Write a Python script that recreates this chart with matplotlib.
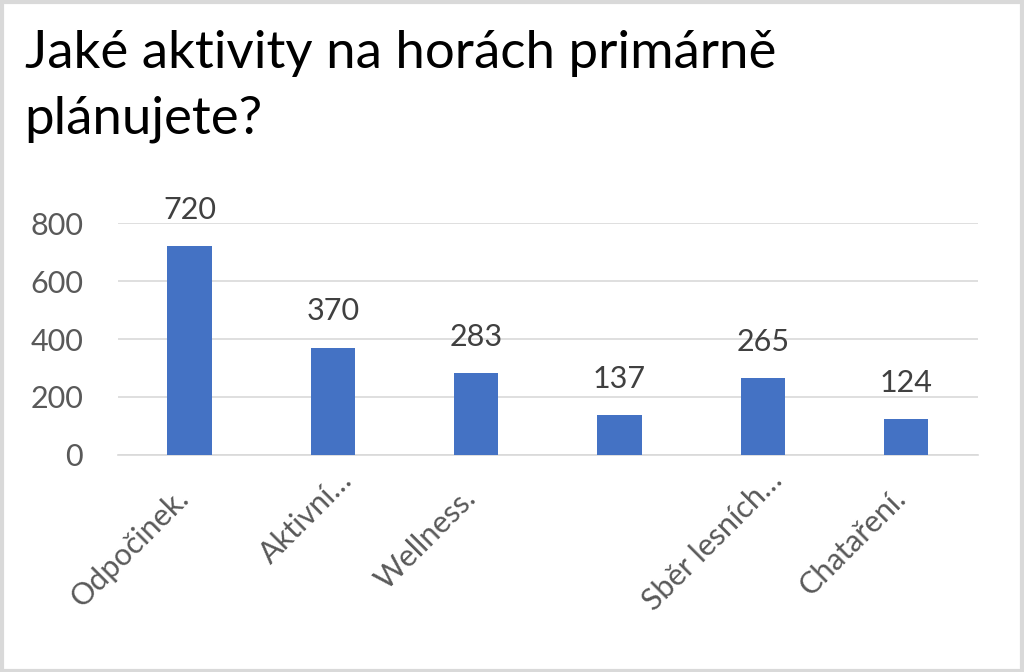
import matplotlib
matplotlib.use("Agg")
import matplotlib.pyplot as plt
import matplotlib.transforms as mtransforms
import numpy as np

plt.rcParams['font.family'] = ['Lato', 'DejaVu Sans']

categories = ["Odpočinek.", "Aktivní…", "Wellness.", "", "Sběr lesních…", "Chataření."]
values = [720, 370, 283, 137, 265, 124]

fig = plt.figure(figsize=(10.24, 6.72), dpi=100)
ax = fig.add_axes([0.115, 0.323, 0.84, 0.345])

x = np.arange(len(categories))
ax.bar(x, values, width=0.31, color='#4472C4', zorder=3)

for xi, v in zip(x, values):
    ax.annotate(str(v), (xi, v), xytext=(0, 16), textcoords='offset points',
                ha='center', va='bottom', fontsize=22, color='#404040')

ax.set_xlim(-0.5, len(categories) - 0.5)
ax.set_ylim(0, 800)
ax.set_yticks([0, 200, 400, 600, 800])
ax.yaxis.grid(True, color='#d9d9d9', linewidth=1.2, zorder=0)
ax.set_axisbelow(True)
for s in ['top', 'right', 'left']:
    ax.spines[s].set_visible(False)
ax.spines['bottom'].set_color('#d9d9d9')
ax.spines['bottom'].set_linewidth(1.2)
ax.tick_params(axis='both', length=0, labelsize=22, labelcolor='#595959')
ax.tick_params(axis='y', pad=25)

ax.set_xticks(x)
ax.set_xticklabels(categories, rotation=45, ha='right', va='center', rotation_mode='anchor')
ax.tick_params(axis='x', pad=28)
for lab in ax.get_xticklabels():
    dx, dy = -5, 0
    if lab.get_text().endswith("…"):
        dx, dy = 15, 18
    lab.set_transform(lab.get_transform() +
                      mtransforms.ScaledTranslation(dx / 100, dy / 100, fig.dpi_scale_trans))

fig.text(0.024, 0.955, "Jaké aktivity na horách primárně\nplánujete?", fontsize=38,
         ha='left', va='top', color='#000000', linespacing=1.49)

# light border around the whole figure
fig.patches.append(plt.Rectangle((0.0015, 0.002), 0.997, 0.995, transform=fig.transFigure,
                                 fill=False, edgecolor='#d9d9d9', linewidth=3))

fig.savefig("out.png", dpi=100, facecolor='white')
